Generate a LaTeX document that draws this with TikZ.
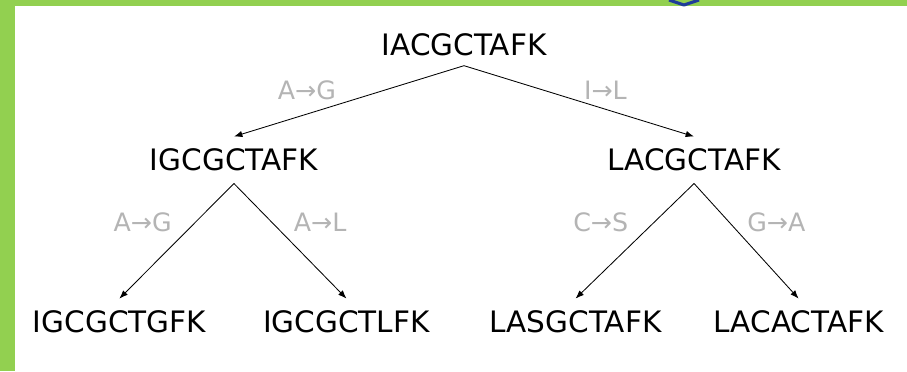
\documentclass[tikz,border=0pt]{standalone}
\usepackage{fontspec}
\setmainfont{DejaVu Sans}
\usepackage{tikz}
\usetikzlibrary{arrows.meta,trees}
\usepackage[dvipsnames]{xcolor}

\definecolor{framegreen}{HTML}{92D050}
\definecolor{labelgray}{HTML}{B4B4B4}
\definecolor{logoblue}{HTML}{1F3C9A}

\begin{document}
\begin{tikzpicture}[x=0.025cm, y=-0.025cm,
                level 1/.style={level distance=2.875cm, sibling distance=11.5cm},
                level 2/.style={level distance=4.05cm, sibling distance=5.625cm},
                every node/.style = {font=\fontsize{21}{25}\selectfont, text height=15pt, text depth=0pt, inner xsep=2pt, inner ysep=9pt},
                edge from parent/.style = {draw, -{Latex[length=6pt,width=4.5pt]}, line width=0.6pt},
                parent anchor=south, child anchor=north,
                lbl/.style = {font=\fontsize{18}{22}\selectfont, text=labelgray, text height=13pt, inner sep=0pt, pos=.5},
                lblleft/.style = {lbl, xshift=-0.85cm, yshift=0.475cm},
                lblright/.style = {lbl, xshift=0.75cm, yshift=0.475cm}
                ]
                \useasboundingbox (0,0) rectangle (907,371);
                % frame
                \fill[framegreen] (0,0) rectangle (907,6);
                \fill[framegreen] (0,0) rectangle (15,371);
                \draw[logoblue, line width=2.2pt, line join=round] (669,0) -- (684,5) -- (699,0);

                \node[inner ysep=7pt] (root) at (464,45) {IACGCTAFK}
                    child {node (igc) {IGCGCTAFK}
                        child {node[xshift=-0.05cm] (igg) {IGCGCTGFK}
                            edge from parent node[lblleft] (ag2) {A→G}}
                        child {node (igl) {IGCGCTLFK}
                            edge from parent node[lblright] (al) {A→L}}
                        edge from parent node[lbl, xshift=-1.05cm, yshift=0.275cm] (ag1) {A→G}
                    }
                    child {node (lac) {LACGCTAFK}
                        child {node[xshift=-0.15cm] (las) {LASGCTAFK}
                            edge from parent node[lblleft] (cs) {C→S}}
                        child {node[xshift=-0.2cm] (laa) {LACACTAFK}
                            edge from parent node[lblright] (ga) {G→A}}
                        edge from parent node[lbl, xshift=0.66cm, yshift=0.275cm] (il) {I→L}
                    };
            \end{tikzpicture}
\end{document}
